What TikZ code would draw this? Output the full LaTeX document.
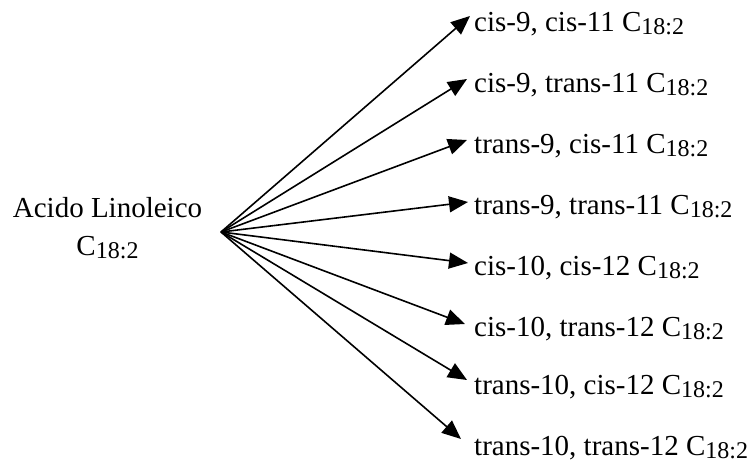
\documentclass[tikz,border=0pt]{standalone}
\usepackage{fontspec}
\setmainfont{Liberation Serif}
\usetikzlibrary{arrows.meta}
\newcommand\csub[1]{\raisebox{-3.5pt}{\fontsize{24}{24}\selectfont #1}}
\tikzset{
  lbl/.style={anchor=base west, inner sep=0pt, font=\fontsize{29}{34}\selectfont},
  arr/.style={-{Triangle[length=19pt,width=16pt]}, line width=1.6pt}
}
\begin{document}
\begin{tikzpicture}[x=1pt,y=-1pt]
\useasboundingbox (0,0) rectangle (755,463);
\node[anchor=base, inner sep=0pt, font=\fontsize{29}{34}\selectfont] (acido) at (107.5,217) {Acido Linoleico};
\node[anchor=base, inner sep=0pt, font=\fontsize{29}{34}\selectfont] (acidoc) at (107.5,255) {C\csub{18:2}};
\coordinate (src) at (221,232);
\node[lbl] (l1) at (474,31) {cis-9, cis-11 C\csub{18:2}};
\node[lbl] (l2) at (474,92) {cis-9, trans-11 C\csub{18:2}};
\node[lbl] (l3) at (474,153) {trans-9, cis-11 C\csub{18:2}};
\node[lbl] (l4) at (474,214) {trans-9, trans-11 C\csub{18:2}};
\node[lbl] (l5) at (474,275) {cis-10, cis-12 C\csub{18:2}};
\node[lbl] (l6) at (474,336) {cis-10, trans-12 C\csub{18:2}};
\node[lbl] (l7) at (474,394) {trans-10, cis-12 C\csub{18:2}};
\node[lbl] (l8) at (474,455) {trans-10, trans-12 C\csub{18:2}};
\coordinate (t1) at (470,16);
\coordinate (t2) at (467,79);
\coordinate (t3) at (467,140);
\coordinate (t4) at (468,202);
\coordinate (t5) at (468,263);
\coordinate (t6) at (465,324);
\coordinate (t7) at (467,380);
\coordinate (t8) at (461,439);
\foreach \i in {1,...,8} \draw[arr] (src) -- (t\i);
\end{tikzpicture}
\end{document}
